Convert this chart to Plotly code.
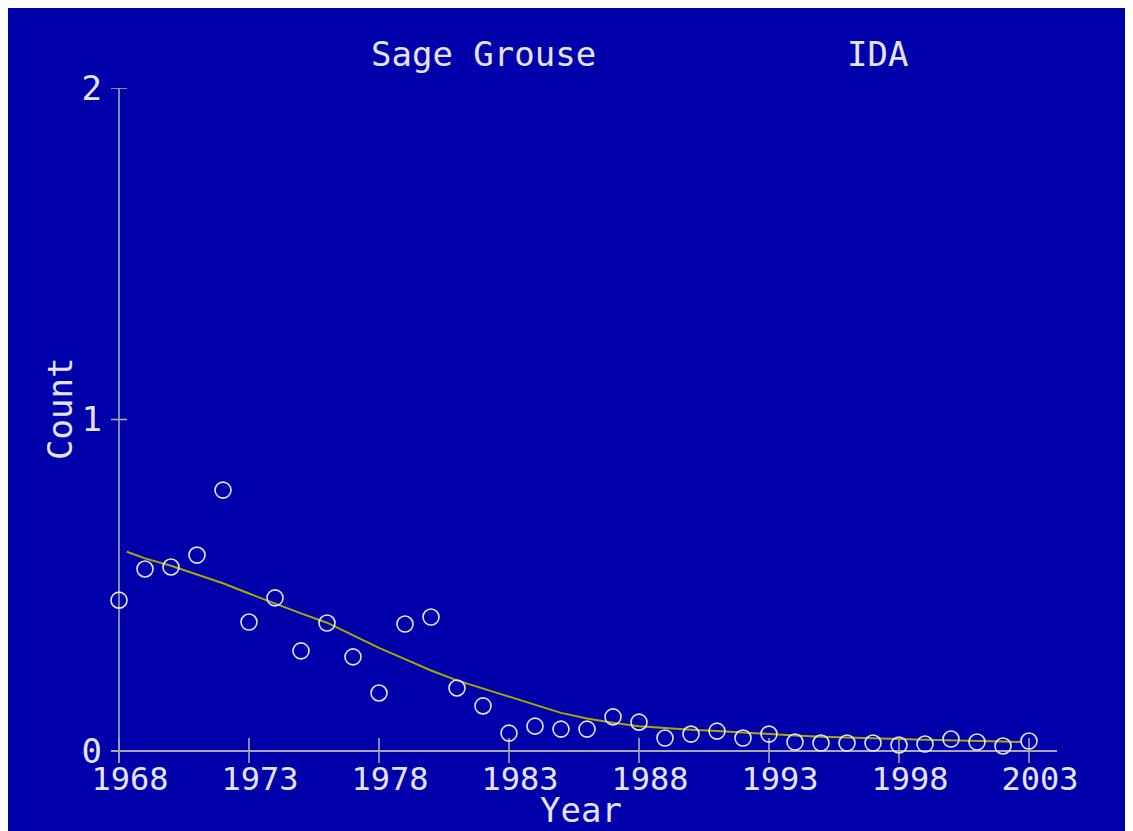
import plotly.graph_objects as go

# ---------------- data ----------------
years = list(range(1968, 2004))
counts = [0.455, 0.549, 0.555, 0.591, 0.787, 0.389, 0.462, 0.302, 0.386, 0.284,
          0.175, 0.383, 0.404, 0.190, 0.136, 0.054, 0.075, 0.066, 0.066, 0.103,
          0.087, 0.039, 0.051, 0.060, 0.039, 0.051, 0.027, 0.024, 0.024, 0.024,
          0.018, 0.021, 0.036, 0.027, 0.015, 0.030]

trend_years = [1968.3, 1969, 1970, 1971, 1972, 1973, 1974, 1975, 1976, 1977, 1978,
               1979, 1980, 1981, 1982, 1983, 1984, 1985, 1986, 1987, 1988, 1989,
               1990, 1991, 1992, 1993, 1994, 1995, 1996, 1997, 1998, 1999, 2000,
               2001, 2002, 2002.7]
trend_vals = [0.601, 0.581, 0.559, 0.533, 0.506, 0.475, 0.444, 0.415, 0.387, 0.348,
              0.311, 0.277, 0.243, 0.213, 0.188, 0.163, 0.138, 0.115, 0.098, 0.085,
              0.075, 0.069, 0.064, 0.060, 0.055, 0.051, 0.047, 0.043, 0.040, 0.038,
              0.036, 0.034, 0.033, 0.031, 0.029, 0.027]

x_ticks = [1968, 1973, 1978, 1983, 1988, 1993, 1998, 2003]
x_tick_labels = ["1968", "1973", "1978", "1983", "1988", "1993", "1998", "2003"]
y_ticks = [0, 1, 2]
y_tick_labels = ["0", "1", "2"]

title_left = "Sage Grouse"
title_right = "IDA"
x_title = "Year"
y_title = "Count"

# ---------------- style ----------------
OFF = 8                      # page body margin
W, H = 1133 - OFF, 831 - OFF
BLUE = "#0000AA"
GRAY = "#A8A8A8"
TXT = "#E4E4FF"
OLIVE = "#A8A800"
FONT = "DejaVu Sans Mono"
FS = 34
FS_TICK = 32

# plot area in screen pixels
SX0, SX1, SY0, SY1 = 111, 1057, 88, 763
ML = SX0 - OFF
MR = W - (SX1 - OFF)
MT = SY0 - OFF
MB = H - (SY1 - OFF)
PW = SX1 - SX0
PH = SY1 - SY0
XPX = 26.0                   # pixels per year
X0 = 1968 - 8 / XPX
X1 = X0 + PW / XPX
YSC = 331.5                  # pixels per count unit
Y0 = -12 / YSC
Y1 = 2.0


def px(sx):
    return (sx - SX0) / PW


def py(sy):
    return (SY1 - sy) / PH


fig = go.Figure()

fig.add_trace(go.Scatter(
    x=trend_years, y=trend_vals, mode="lines",
    line=dict(color=OLIVE, width=2), hoverinfo="skip", cliponaxis=False,
))
fig.add_trace(go.Scatter(
    x=years, y=counts, mode="markers",
    marker=dict(symbol="circle-open", size=16, color=TXT, line=dict(width=1.6, color=TXT)),
    cliponaxis=False,
))

shapes = []
# y axis line at first year
shapes.append(dict(type="line", xref="x", yref="y", x0=x_ticks[0], x1=x_ticks[0],
                   y0=Y0, y1=Y1, line=dict(color=GRAY, width=1.6), layer="below"))
# x ticks crossing axis
for t in x_ticks:
    shapes.append(dict(type="line", xref="x", yref="y", x0=t, x1=t,
                       y0=13 / YSC, y1=Y0, line=dict(color=GRAY, width=1.6), layer="below"))
# y ticks crossing axis
for t in y_ticks[1:]:
    shapes.append(dict(type="line", xref="x", yref="y", x0=X0, x1=x_ticks[0] + 8 / XPX,
                       y0=t, y1=t, line=dict(color=GRAY, width=1.6), layer="below"))

annotations = [
    dict(text=title_left, x=px(483), y=py(54), xref="paper", yref="paper",
         xanchor="center", yanchor="middle", showarrow=False,
         font=dict(family=FONT, size=FS, color=TXT)),
    dict(text=title_right, x=px(877), y=py(54), xref="paper", yref="paper",
         xanchor="center", yanchor="middle", showarrow=False,
         font=dict(family=FONT, size=FS, color=TXT)),
    dict(text=x_title, x=px(581), y=py(810), xref="paper", yref="paper",
         xanchor="center", yanchor="middle", showarrow=False,
         font=dict(family=FONT, size=FS, color=TXT)),
    dict(text=y_title, x=px(60), y=py(409), xref="paper", yref="paper",
         xanchor="center", yanchor="middle", showarrow=False, textangle=-90,
         font=dict(family=FONT, size=FS, color=TXT)),
]

fig.update_layout(
    width=W, height=H,
    margin=dict(l=ML, r=MR, t=MT, b=MB, pad=0),
    paper_bgcolor=BLUE, plot_bgcolor=BLUE,
    showlegend=False,
    shapes=shapes, annotations=annotations,
    xaxis=dict(range=[X0, X1], showgrid=False, zeroline=False, showline=False,
               tickmode="array", tickvals=x_ticks, ticktext=x_tick_labels, ticks="",
               ticklabelshift=11, ticklabelstandoff=-6,
               tickfont=dict(family=FONT, size=FS_TICK, color=TXT)),
    yaxis=dict(range=[Y0, Y1], showgrid=False, zeroline=True, zerolinecolor=GRAY,
               zerolinewidth=1.6, showline=False,
               tickmode="array", tickvals=y_ticks, ticktext=y_tick_labels, ticks="",
               ticklabelstandoff=8,
               tickfont=dict(family=FONT, size=FS, color=TXT)),
)

fig.write_html("out.html")
